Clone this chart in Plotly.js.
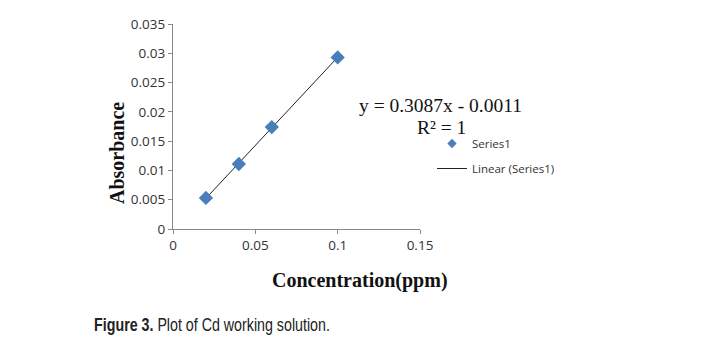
<!DOCTYPE html>
<html>
<head>
<meta charset="utf-8">
<script src="https://cdn.plot.ly/plotly-3.0.1.min.js"></script>
<style>html,body{margin:0;padding:0;background:#fff;}#chart{width:728px;height:358px;}</style>
</head>
<body>
<div id="chart"></div>
<script>
// Data
const concentration = [0.02, 0.04, 0.06, 0.1];
const absorbance = [0.0053, 0.0111, 0.0174, 0.0293];
const xTicks = [0, 0.05, 0.1, 0.15];
const xTickLabels = ['0', '0.05', '0.1', '0.15'];
const yTicks = [0, 0.005, 0.01, 0.015, 0.02, 0.025, 0.03, 0.035];
const yTickLabels = ['0', '0.005', '0.01', '0.015', '0.02', '0.025', '0.03', '0.035'];
const equationText = 'y = 0.3087x - 0.0011';
const r2Text = 'R² = 1';
const seriesName = 'Series1';
const trendName = 'Linear (Series1)';
const xTitle = 'Concentration(ppm)';
const yTitle = 'Absorbance';
const caption = '<b>Figure 3.</b> Plot of Cd working solution.';

// Least-squares linear trendline computed from the data
const n = concentration.length;
const mx = concentration.reduce((a, b) => a + b, 0) / n;
const my = absorbance.reduce((a, b) => a + b, 0) / n;
let sxy = 0, sxx = 0;
for (let i = 0; i < n; i++) { sxy += (concentration[i] - mx) * (absorbance[i] - my); sxx += (concentration[i] - mx) ** 2; }
const slope = sxy / sxx, intercept = my - slope * mx;
const trendX = [Math.min(...concentration), Math.max(...concentration)];
const trendY = trendX.map(x => slope * x + intercept);

const tickFont = {family: 'Open Sans, Liberation Sans, sans-serif', size: 13.5, color: '#333'};
const serif = 'Liberation Serif, Times New Roman, serif';

const data = [
  {x: trendX, y: trendY, mode: 'lines', name: trendName, legendgroup: 'b', legendrank: 2,
   line: {color: '#222', width: 1}, hoverinfo: 'skip'},
  {x: concentration, y: absorbance, mode: 'markers', name: seriesName, legendgroup: 'a', legendrank: 1,
   marker: {symbol: 'diamond', size: 11, color: '#4A7EBB'}}
];

const layout = {
  width: 728, height: 358,
  margin: {l: 173, r: 308, t: 24, b: 129},
  paper_bgcolor: '#fff', plot_bgcolor: '#fff',
  showlegend: true,
  legend: {x: (432 - 173) / 247, xanchor: 'left', y: (229 - 129) / 205, yanchor: 'top',
           font: {family: 'Open Sans, Liberation Sans, sans-serif', size: 11.5, color: '#333'},
           tracegroupgap: 6, itemwidth: 30, bgcolor: 'rgba(0,0,0,0)'},
  xaxis: {range: [0, 0.15], tickvals: xTicks, ticktext: xTickLabels, showgrid: false, zeroline: false,
          showline: true, linecolor: '#888', linewidth: 1, ticks: 'outside', ticklen: 4, tickcolor: '#888',
          tickfont: tickFont, fixedrange: true},
  yaxis: {range: [0, 0.035], tickvals: yTicks, ticktext: yTickLabels, showgrid: false, zeroline: false,
          showline: true, linecolor: '#888', linewidth: 1, ticks: 'outside', ticklen: 4, tickcolor: '#888',
          tickfont: tickFont, fixedrange: true},
  annotations: [
    {xref: 'paper', yref: 'paper', x: (440 - 173) / 247, y: (229 - 105) / 205, text: equationText, showarrow: false,
     xanchor: 'center', yanchor: 'middle', font: {family: serif, size: 19.5, color: '#111'}},
    {xref: 'paper', yref: 'paper', x: (441 - 173) / 247, y: (229 - 127) / 205, text: r2Text, showarrow: false,
     xanchor: 'center', yanchor: 'middle', font: {family: serif, size: 19.5, color: '#111'}},
    {xref: 'paper', yref: 'paper', x: (360 - 173) / 247, y: (229 - 280) / 205, text: '<b>' + xTitle + '</b>', showarrow: false,
     xanchor: 'center', yanchor: 'middle', font: {family: serif, size: 20, color: '#111'}},
    {xref: 'paper', yref: 'paper', x: (117 - 173) / 247, y: (229 - 153) / 205, text: '<b>' + yTitle + '</b>', showarrow: false,
     textangle: -90, xanchor: 'center', yanchor: 'middle', font: {family: serif, size: 20, color: '#111'}},
    {xref: 'paper', yref: 'paper', x: (92 - 173) / 247, y: (229 - 325) / 205, text: caption, showarrow: false,
     xanchor: 'left', yanchor: 'middle', font: {family: 'Liberation Sans, Arial, sans-serif', size: 18, color: '#222'}}
  ]
};

Plotly.newPlot('chart', data, layout, {staticPlot: true, displayModeBar: false}).then(gd => {
  // Condense the caption horizontally to mimic Arial Narrow
  const anns = gd.querySelectorAll('.annotation');
  const capG = anns[anns.length - 1];
  const txt = capG && capG.querySelector('text');
  if (txt) {
    const bb = txt.getBBox();
    const s = 236 / bb.width;
    const x0 = bb.x;
    txt.setAttribute('transform', `translate(${x0},0) scale(${s},1) translate(${-x0},0)`);
  }
  // Smaller legend marker, as in the reference
  gd.querySelectorAll('.legend .legendpoints path.scatterpts').forEach(p => {
    const t = p.getAttribute('transform') || '';
    p.setAttribute('transform', t + ' scale(0.65)');
  });
});
</script>
</body>
</html>
